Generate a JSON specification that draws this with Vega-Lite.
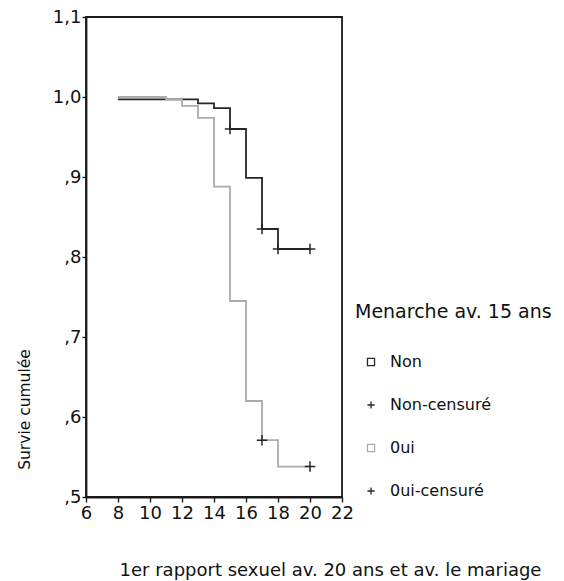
{
  "$schema": "https://vega.github.io/schema/vega-lite/v6.json",
  "autosize": {"type": "none"},
  "padding": {"left": 86, "top": 17, "right": 222, "bottom": 84},
  "width": 256,
  "height": 480,
  "background": "white",
  "config": {
    "font": "DejaVu Sans",
    "view": {"stroke": "#1a1a1a", "strokeWidth": 1.8},
    "axis": {
      "grid": false,
      "domainColor": "#1a1a1a",
      "domainWidth": 1.8,
      "tickColor": "#1a1a1a",
      "tickWidth": 1.4,
      "labelFont": "DejaVu Sans",
      "labelFontSize": 18,
      "labelColor": "#111111",
      "labelOverlap": false,
      "labelFlush": false,
      "titleFont": "DejaVu Sans",
      "titleFontWeight": "normal",
      "titleColor": "#111111"
    },
    "legend": {
      "orient": "none",
      "legendX": 269,
      "legendY": 286,
      "titleFont": "DejaVu Sans",
      "titleFontSize": 19,
      "titleFontWeight": "normal",
      "titleColor": "#111111",
      "titleLimit": 400,
      "titlePadding": 32,
      "labelFont": "DejaVu Sans",
      "labelFontSize": 16,
      "labelColor": "#111111",
      "labelLimit": 300,
      "labelOffset": 11,
      "rowPadding": 27,
      "symbolSize": 50,
      "symbolStrokeWidth": 1.3,
      "symbolOffset": 8
    }
  },
  "datasets": {
    "courbes": [
      {"legende": "Non", "age": 8, "survie": 0.997},
      {"legende": "Non", "age": 13, "survie": 0.992},
      {"legende": "Non", "age": 14, "survie": 0.986},
      {"legende": "Non", "age": 15, "survie": 0.96},
      {"legende": "Non", "age": 16, "survie": 0.899},
      {"legende": "Non", "age": 17, "survie": 0.835},
      {"legende": "Non", "age": 18, "survie": 0.81},
      {"legende": "Non", "age": 20, "survie": 0.81},
      {"legende": "0ui", "age": 8, "survie": 1.0},
      {"legende": "0ui", "age": 11, "survie": 0.997},
      {"legende": "0ui", "age": 12, "survie": 0.989},
      {"legende": "0ui", "age": 13, "survie": 0.974},
      {"legende": "0ui", "age": 14, "survie": 0.888},
      {"legende": "0ui", "age": 15, "survie": 0.745},
      {"legende": "0ui", "age": 16, "survie": 0.62},
      {"legende": "0ui", "age": 17, "survie": 0.571},
      {"legende": "0ui", "age": 18, "survie": 0.538},
      {"legende": "0ui", "age": 20, "survie": 0.538}
    ],
    "censures": [
      {"legende": "Non-censuré", "age": 15, "survie": 0.96},
      {"legende": "Non-censuré", "age": 17, "survie": 0.835},
      {"legende": "Non-censuré", "age": 18, "survie": 0.81},
      {"legende": "Non-censuré", "age": 20, "survie": 0.81},
      {"legende": "0ui-censuré", "age": 17, "survie": 0.571},
      {"legende": "0ui-censuré", "age": 20, "survie": 0.538}
    ]
  },
  "encoding": {
    "x": {
      "field": "age",
      "type": "quantitative",
      "scale": {"domain": [6, 22], "nice": false, "zero": false},
      "axis": {
        "values": [6, 8, 10, 12, 14, 16, 18, 20, 22],
        "tickSize": 5,
        "labelPadding": 2,
        "title": "1er rapport sexuel av. 20 ans et av. le mariage",
        "titleFontSize": 18,
        "titleX": 244,
        "titleY": 73,
        "titleAlign": "center",
        "titleBaseline": "middle"
      }
    },
    "y": {
      "field": "survie",
      "type": "quantitative",
      "scale": {"domain": [0.5, 1.1], "nice": false, "zero": false},
      "axis": {
        "values": [0.5, 0.6, 0.7, 0.8, 0.9, 1.0, 1.1],
        "tickSize": 4,
        "labelPadding": 1,
        "labelExpr": "datum.value >= 1 ? replace(format(datum.value, '.1f'), '.', ',') : replace(format(datum.value, '.1f'), '0.', ',')",
        "title": "Survie cumulée",
        "titleFontSize": 15.5,
        "titleAngle": 270,
        "titleX": -62,
        "titleY": 392,
        "titleAlign": "center",
        "titleBaseline": "middle"
      }
    }
  },
  "layer": [
    {
      "data": {"name": "courbes"},
      "mark": {"type": "line", "interpolate": "step-after", "strokeWidth": 1.8},
      "encoding": {
        "color": {
          "field": "legende",
          "type": "nominal",
          "title": "Menarche av. 15 ans",
          "scale": {
            "domain": ["Non", "Non-censuré", "0ui", "0ui-censuré"],
            "range": ["#262626", "#262626", "#ababab", "#262626"]
          }
        }
      }
    },
    {
      "data": {"name": "censures"},
      "mark": {"type": "point", "filled": false, "strokeWidth": 1.5, "size": 110, "opacity": 1},
      "encoding": {
        "color": {"field": "legende", "type": "nominal", "title": "Menarche av. 15 ans"},
        "shape": {
          "field": "legende",
          "type": "nominal",
          "title": "Menarche av. 15 ans",
          "scale": {
            "domain": ["Non", "Non-censuré", "0ui", "0ui-censuré"],
            "range": ["square", "M-1,0H1M0,-1V1", "square", "M-1,0H1M0,-1V1"]
          }
        }
      }
    }
  ]
}
